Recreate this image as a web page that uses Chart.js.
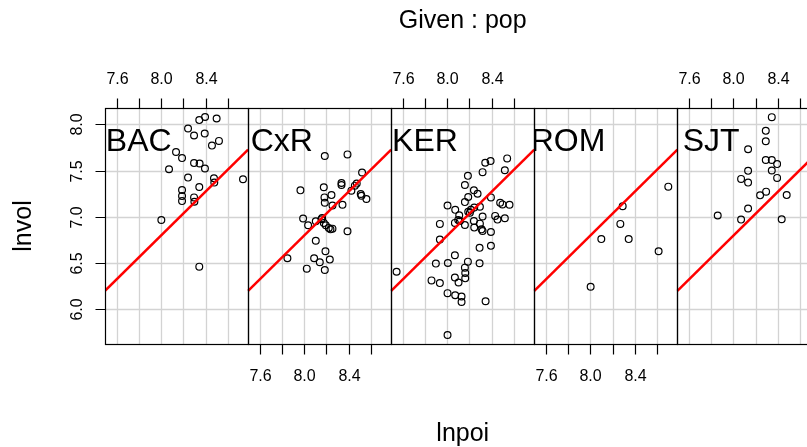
<!DOCTYPE html>
<html>
<head>
<meta charset="utf-8">
<title>coplot: lnvol ~ lnpoi | pop</title>
<script src="https://cdn.jsdelivr.net/npm/chart.js@4.4.1/dist/chart.umd.min.js"></script>
<style>
  html, body { margin: 0; padding: 0; background: #fff; overflow: hidden; }
  #wrap { width: 830px; height: 447px; }
</style>
</head>
<body>
<div id="wrap"><canvas id="coplot" width="830" height="447"></canvas></div>
<script>
// Коплот lnvol ~ lnpoi | pop: пять панелей подряд, последняя обрезана краем окна.
const panels = ["BAC", "CxR", "KER", "ROM", "SJT"];

const bacX = [8.396, 8.344, 8.500, 8.243, 8.297, 8.393, 8.521, 8.458, 8.135, 8.189, 8.297, 8.347, 8.395,
              8.072, 8.243, 8.476, 8.479, 8.737, 8.344, 8.189, 8.189, 8.189, 8.297, 8.300, 8.003, 8.344];
const bacY = [8.080, 8.047, 8.065, 7.956, 7.880, 7.902, 7.822, 7.771, 7.702, 7.636, 7.582, 7.578, 7.524,
              7.516, 7.425, 7.418, 7.371, 7.407, 7.324, 7.291, 7.225, 7.171, 7.211, 7.164, 6.967, 6.462];

const cxrX = [8.186, 8.390, 8.521, 8.336, 8.336, 8.177, 7.967, 8.473, 8.425, 8.509, 8.515, 8.560, 8.183,
              8.246, 8.186, 8.255, 8.345, 7.991, 8.036, 8.105, 8.162, 8.177, 8.195, 8.222, 8.255, 8.237,
              8.390, 8.105, 8.192, 7.850, 8.090, 8.141, 8.231, 8.024, 8.186, 8.456, 8.156];
const cxrY = [7.658, 7.676, 7.480, 7.367, 7.345, 7.320, 7.287, 7.360, 7.284, 7.247, 7.229, 7.193, 7.211,
              7.236, 7.153, 7.124, 7.131, 6.982, 6.909, 6.953, 6.989, 6.935, 6.909, 6.880, 6.873, 6.865,
              6.844, 6.742, 6.629, 6.553, 6.553, 6.509, 6.538, 6.440, 6.425, 7.338, 6.975];

const kerX = [8.539, 8.390, 8.342, 8.518, 8.318, 8.186, 8.159, 8.240, 8.273, 8.189, 8.159, 8.393, 8.003,
              8.476, 8.497, 8.560, 8.072, 8.213, 8.243, 8.294, 8.108, 8.204, 8.318, 8.431, 8.452, 8.518,
              7.934, 8.069, 8.114, 8.159, 8.240, 8.294, 8.243, 8.318, 8.309, 8.393, 7.934, 8.291, 8.393,
              8.069, 7.898, 8.006, 8.186, 8.291, 8.159, 8.162, 8.162, 8.069, 8.102, 7.859, 7.934, 8.003,
              8.072, 8.129, 8.129, 8.345, 8.003, 7.545, 8.099, 8.189];
const kerY = [7.633, 7.604, 7.585, 7.505, 7.484, 7.444, 7.345, 7.287, 7.251, 7.215, 7.160, 7.211, 7.124,
              7.153, 7.135, 7.131, 7.076, 7.076, 7.102, 7.109, 7.018, 7.044, 7.004, 7.011, 6.971, 6.985,
              6.924, 6.935, 6.956, 6.913, 6.956, 6.927, 6.884, 6.847, 6.865, 6.836, 6.756, 6.665, 6.687,
              6.585, 6.495, 6.502, 6.516, 6.498, 6.451, 6.393, 6.335, 6.345, 6.291, 6.313, 6.284, 6.175,
              6.153, 6.138, 6.080, 6.087, 5.723, 6.407, 6.967, 7.055];

const romX = [8.701, 8.291, 8.270, 8.099, 8.345, 8.614, 8.003];
const romY = [7.327, 7.116, 6.924, 6.760, 6.760, 6.629, 6.244];

const sjtX = [8.345, 8.291, 8.291, 8.132, 8.291, 8.345, 8.393, 8.132, 8.345, 8.069, 8.132, 8.393, 8.240,
              8.294, 8.479, 8.132, 7.859, 8.069, 8.434];
const sjtY = [8.079, 7.931, 7.818, 7.731, 7.615, 7.615, 7.571, 7.498, 7.502, 7.411, 7.371, 7.422, 7.233,
              7.273, 7.236, 7.091, 7.015, 6.971, 6.975];

// общая линия регрессии (концы на границах панели)
const fitX = [7.4966, 8.7829];
const fitY = [6.200, 7.727];

const xTicks = [7.6, 7.8, 8.0, 8.2, 8.4, 8.6];
const xTickLabels = ["7.6", "", "8.0", "", "8.4", ""];
const yTicks = [6.0, 6.5, 7.0, 7.5, 8.0];
const yTickLabels = ["6.0", "6.5", "7.0", "7.5", "8.0"];

const X_MIN = 7.4966, X_MAX = 8.7829;
const Y_MIN = 5.625, Y_MAX = 8.178;
const LABEL_AT = [7.8, 7.713];

(function () {
  "use strict";
  const FONT = '"Liberation Sans", Arial, Helvetica, sans-serif';
  const W = X_MAX - X_MIN;
  // панель k -> сдвиг по общей оси x
  const px = (k, v) => k * W + (v - X_MIN);
  const sets = [[bacX, bacY], [cxrX, cxrY], [kerX, kerY], [romX, romY], [sjtX, sjtY]];
  const half = (v) => Math.round(v) + 0.5;

  const frame = {
    id: "coplotFrame",
    beforeDatasetsDraw(chart) {
      const { ctx, chartArea: a, scales: { x, y } } = chart;
      ctx.save();
      ctx.strokeStyle = "#D3D3D3";
      ctx.lineWidth = 1.3;
      ctx.beginPath();
      panels.forEach((_, k) => {
        xTicks.forEach((t) => {
          const X = half(x.getPixelForValue(px(k, t)));
          ctx.moveTo(X, a.top); ctx.lineTo(X, a.bottom);
        });
      });
      yTicks.forEach((t) => {
        const Y = half(y.getPixelForValue(t));
        ctx.moveTo(a.left, Y); ctx.lineTo(a.right, Y);
      });
      ctx.stroke();
      ctx.restore();
    },
    afterDatasetsDraw(chart) {
      const { ctx, chartArea: a, scales: { x, y } } = chart;
      const top = half(a.top), bot = half(a.bottom);
      ctx.save();
      ctx.strokeStyle = "#000";
      ctx.fillStyle = "#000";
      ctx.lineWidth = 1.2;

      panels.forEach((name, k) => {
        const L = half(x.getPixelForValue(px(k, X_MIN)));
        const R = half(x.getPixelForValue(px(k, X_MAX)));
        ctx.strokeRect(L, top, R - L, bot - top);

        // подпись панели, обрезанная по панели
        ctx.save();
        ctx.beginPath(); ctx.rect(L, top, R - L, bot - top); ctx.clip();
        ctx.font = "32px " + FONT;
        ctx.textAlign = "center"; ctx.textBaseline = "alphabetic";
        ctx.fillText(name, x.getPixelForValue(px(k, LABEL_AT[0])), y.getPixelForValue(LABEL_AT[1]));
        ctx.restore();

        // оси x: сверху у чётных панелей, снизу у нечётных
        const up = k % 2 === 0;
        ctx.font = "16px " + FONT;
        ctx.textAlign = "center";
        ctx.beginPath();
        xTicks.forEach((t, i) => {
          const X = half(x.getPixelForValue(px(k, t)));
          if (up) { ctx.moveTo(X, top); ctx.lineTo(X, top - 10); }
          else { ctx.moveTo(X, bot); ctx.lineTo(X, bot + 10); }
          if (xTickLabels[i]) ctx.fillText(xTickLabels[i], X, up ? a.top - 24 : a.bottom + 37);
        });
        ctx.stroke();
      });

      // ось y слева от первой панели
      const L0 = half(a.left);
      ctx.beginPath();
      yTicks.forEach((t, i) => {
        const Y = half(y.getPixelForValue(t));
        ctx.moveTo(L0, Y); ctx.lineTo(L0 - 10, Y);
        ctx.save();
        ctx.translate(82, Y);
        ctx.rotate(-Math.PI / 2);
        ctx.font = "16px " + FONT;
        ctx.textAlign = "center"; ctx.textBaseline = "alphabetic";
        ctx.fillText(yTickLabels[i], 0, 0);
        ctx.restore();
      });
      ctx.stroke();

      // заголовки
      const cx = (a.left + a.right) / 2;
      ctx.font = "25px " + FONT;
      ctx.textAlign = "center"; ctx.textBaseline = "alphabetic";
      ctx.fillText("Given : pop", cx, 28);
      ctx.fillText("lnpoi", cx, 441);
      ctx.save();
      ctx.translate(31, (a.top + a.bottom) / 2);
      ctx.rotate(-Math.PI / 2);
      ctx.fillText("lnvol", 0, 0);
      ctx.restore();
      ctx.restore();
    },
  };

  const fitSets = panels.map((_, k) => ({
    type: "line",
    data: fitX.map((v, i) => ({ x: px(k, v), y: fitY[i] })),
    borderColor: "#FF0000", borderWidth: 2.5, pointRadius: 0, fill: false, tension: 0,
  }));
  const pointSets = sets.map(([xs, ys], k) => ({
    type: "scatter",
    data: xs.map((v, i) => ({ x: px(k, v), y: ys[i] })),
    pointStyle: "circle", pointRadius: 3.4, borderWidth: 1.2,
    borderColor: "#000", backgroundColor: "rgba(0,0,0,0)",
  }));

  new Chart(document.getElementById("coplot"), {
    type: "scatter",
    data: { datasets: fitSets.concat(pointSets) },
    options: {
      responsive: false, animation: false, devicePixelRatio: 1, events: [],
      layout: { padding: { left: 105, right: 9.5, top: 108, bottom: 103 } },
      plugins: { legend: { display: false }, tooltip: { enabled: false } },
      scales: {
        x: { type: "linear", min: 0, max: 5 * W, display: false },
        y: { type: "linear", min: Y_MIN, max: Y_MAX, display: false },
      },
    },
    plugins: [frame],
  });
})();
</script>
</body>
</html>
